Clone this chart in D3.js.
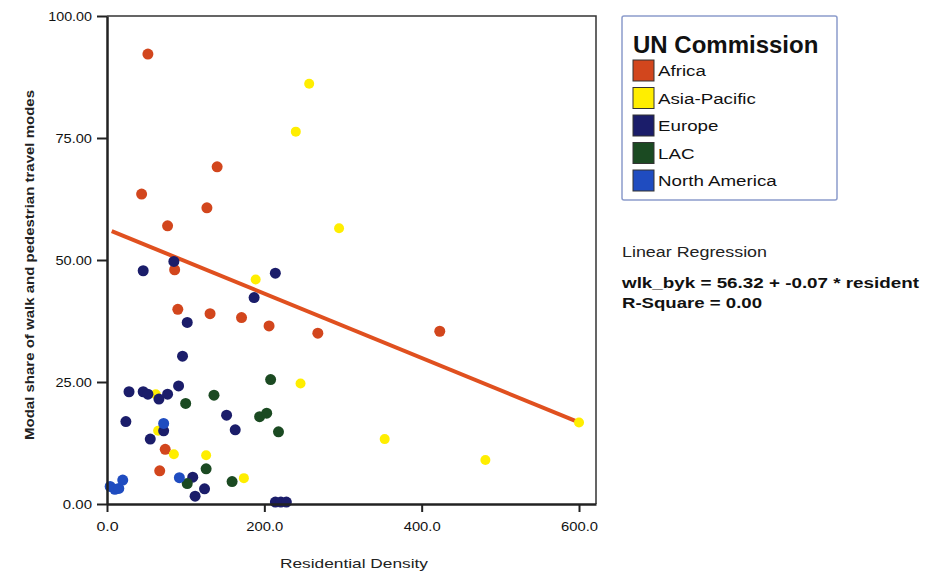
<!DOCTYPE html>
<html>
<head>
<meta charset="utf-8">
<script src="https://cdn.jsdelivr.net/npm/d3@7"></script>
<style>
  body { margin: 0; background: #fff; }
  text { font-family: "Liberation Sans", Arial, sans-serif; }
</style>
</head>
<body>
<script>
// legend categories and colours
var categories = ["Africa", "Asia-Pacific", "Europe", "LAC", "North America"];
var colors = ["#d2461d", "#ffee00", "#1b1d6a", "#1b4a22", "#1f4cc0"];

// points per UN commission, [residential density, modal share]
var africa = [[52, 92.2], [44, 63.5], [77, 57], [127, 60.7], [140, 69.1], [86, 48], [90, 39.9],
    [131, 39], [171, 38.2], [206, 36.5], [268, 35], [423, 35.4], [74, 11.2], [67, 6.8]];
var asiaPacific = [[257, 86.1], [240, 76.3], [295, 56.5], [189, 46], [246, 24.7], [353, 13.3],
    [481, 9], [600, 16.7], [62, 22.5], [65, 15], [85, 10.2], [126, 10], [174, 5.3]];
var europe = [[46, 47.8], [85, 49.7], [102, 37.2], [96, 30.3], [214, 47.3], [187, 42.3], [28, 23],
    [46, 23], [52, 22.5], [66, 21.5], [77, 22.5], [91, 24.2], [24, 16.9], [72, 15], [55, 13.3],
    [109, 5.5], [124, 3.1], [112, 1.6], [152, 18.2], [163, 15.2], [214, 0.4], [221, 0.4], [228, 0.4]];
var lac = [[100, 20.6], [136, 22.3], [208, 25.5], [194, 17.9], [203, 18.6], [218, 14.8],
    [126, 7.2], [159, 4.6], [102, 4.2]];
var northAmerica = [[4, 3.6], [10, 3.0], [15, 3.2], [20, 4.9], [72, 16.5], [92, 5.4]];
var groups = [africa, asiaPacific, europe, lac, northAmerica];

// axis ticks
var xTicks = [0, 200, 400, 600];
var yTicks = [0, 25, 50, 75, 100];

// fitted line
var regIntercept = 56.32;
var regSlope = -0.066;
var regRange = [6, 600];

var width = 939, height = 573;
var margin = { top: 16, right: 343, bottom: 69, left: 107 };

var svg = d3.select("body").append("svg")
    .attr("width", width)
    .attr("height", height);

var x = d3.scaleLinear().domain([0, 621.6]).range([margin.left, width - margin.right]);
var y = d3.scaleLinear().domain([0, 100]).range([height - margin.bottom, margin.top]);

// frame top and right
svg.append("path")
    .attr("d", "M" + x(0) + "," + y(100) + "H" + x(621.6) + "V" + y(0))
    .attr("fill", "none")
    .attr("stroke", "#333")
    .attr("stroke-width", 1.5);

// regression line
var line = d3.line()
    .x(function (d) { return x(d); })
    .y(function (d) { return y(regIntercept + regSlope * d); });

svg.append("path")
    .datum(regRange)
    .attr("d", line)
    .attr("fill", "none")
    .attr("stroke", "#e0501f")
    .attr("stroke-width", 4);

// points
groups.forEach(function (g, i) {
    svg.append("g").selectAll("circle")
        .data(g)
        .enter().append("circle")
        .attr("cx", function (d) { return x(d[0]); })
        .attr("cy", function (d) { return y(d[1]); })
        .attr("r", i == 1 ? 5 : 5.5)
        .attr("fill", colors[i]);
});

// x axis
var xAxis = svg.append("g")
    .attr("transform", "translate(0," + y(0) + ")")
    .call(d3.axisBottom(x).tickValues(xTicks).tickFormat(d3.format(".1f")).tickSize(8).tickSizeOuter(0));
xAxis.select(".domain").attr("stroke", "#222").attr("stroke-width", 2.5);
xAxis.selectAll(".tick line").attr("stroke", "#222").attr("stroke-width", 2);
xAxis.selectAll(".tick text").attr("font-size", 13).attr("fill", "#111").attr("dy", "1.25em")
    .attr("textLength", function () { return this.textContent.length * 7.4; })
    .attr("lengthAdjust", "spacingAndGlyphs")
    .style("font-family", "Liberation Sans, Arial, sans-serif");

// y axis
var yAxis = svg.append("g")
    .attr("transform", "translate(" + x(0) + ",0)")
    .call(d3.axisLeft(y).tickValues(yTicks).tickFormat(d3.format(".2f")).tickSize(10).tickSizeOuter(0));
yAxis.select(".domain").attr("stroke", "#222").attr("stroke-width", 2.5);
yAxis.selectAll(".tick line").attr("stroke", "#222").attr("stroke-width", 2);
yAxis.selectAll(".tick text").attr("font-size", 13).attr("fill", "#111").attr("x", -15)
    .attr("textLength", function () { return this.textContent.length * 7.3; })
    .attr("lengthAdjust", "spacingAndGlyphs")
    .style("font-family", "Liberation Sans, Arial, sans-serif");

// axis titles
svg.append("text")
    .attr("x", 354).attr("y", 568)
    .attr("text-anchor", "middle")
    .attr("font-size", 13).attr("fill", "#222")
    .attr("textLength", 148).attr("lengthAdjust", "spacingAndGlyphs")
    .text("Residential Density");

svg.append("text")
    .attr("transform", "translate(34,265) rotate(-90)")
    .attr("text-anchor", "middle")
    .attr("font-size", 12).attr("font-weight", "bold").attr("fill", "#222")
    .attr("textLength", 350).attr("lengthAdjust", "spacingAndGlyphs")
    .text("Modal share of walk and pedestrian travel modes");

// legend
var legend = svg.append("g").attr("transform", "translate(622,16)");
legend.append("rect")
    .attr("width", 215).attr("height", 184)
    .attr("rx", 2)
    .attr("fill", "#fff")
    .attr("stroke", "#8c9ccc").attr("stroke-width", 1.5);
legend.append("text")
    .attr("x", 11).attr("y", 37)
    .attr("font-size", 24).attr("font-weight", "bold").attr("fill", "#111")
    .text("UN Commission");

var items = legend.selectAll(".item")
    .data(categories)
    .enter().append("g")
    .attr("class", "item")
    .attr("transform", function (d, i) { return "translate(11," + (44 + i * 27.5) + ")"; });
items.append("rect")
    .attr("width", 21).attr("height", 21)
    .attr("fill", function (d, i) { return colors[i]; })
    .attr("stroke", "#333").attr("stroke-width", 1);
items.append("text")
    .attr("transform", "translate(25,16) scale(1.25,1)")
    .attr("font-size", 15).attr("fill", "#111")
    .text(function (d) { return d; });

// regression text
svg.append("text")
    .attr("x", 622).attr("y", 257)
    .attr("font-size", 14).attr("fill", "#222")
    .attr("textLength", 145).attr("lengthAdjust", "spacingAndGlyphs")
    .text("Linear Regression");
svg.append("text")
    .attr("x", 622).attr("y", 288)
    .attr("font-size", 14).attr("font-weight", "bold").attr("fill", "#111")
    .attr("textLength", 297).attr("lengthAdjust", "spacingAndGlyphs")
    .text("wlk_byk = 56.32 + -0.07 * resident");
svg.append("text")
    .attr("x", 622).attr("y", 308)
    .attr("font-size", 14).attr("font-weight", "bold").attr("fill", "#111")
    .attr("textLength", 140).attr("lengthAdjust", "spacingAndGlyphs")
    .text("R-Square = 0.00");
</script>
</body>
</html>
